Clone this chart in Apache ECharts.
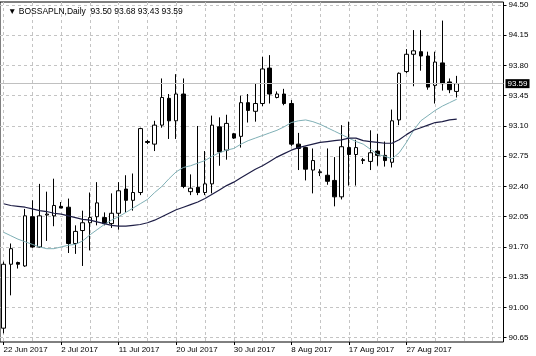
<!DOCTYPE html>
<html><head><meta charset="utf-8">
<script src="https://cdn.jsdelivr.net/npm/echarts@6/dist/echarts.min.js"></script>
<style>html,body{margin:0;padding:0;background:#fff}#c{width:536px;height:356px}</style>
</head><body><div id="c"></div>
<script>
const symbolName = 'BOSSAPLN,Daily';
const dates = ['22 Jun 2017','23 Jun 2017','25 Jun 2017','26 Jun 2017','27 Jun 2017','28 Jun 2017','29 Jun 2017','30 Jun 2017',
'2 Jul 2017','3 Jul 2017','4 Jul 2017','5 Jul 2017','6 Jul 2017','7 Jul 2017','9 Jul 2017','10 Jul 2017',
'11 Jul 2017','12 Jul 2017','13 Jul 2017','14 Jul 2017','16 Jul 2017','17 Jul 2017','18 Jul 2017','19 Jul 2017',
'20 Jul 2017','21 Jul 2017','23 Jul 2017','24 Jul 2017','25 Jul 2017','26 Jul 2017','27 Jul 2017','28 Jul 2017',
'30 Jul 2017','31 Jul 2017','1 Aug 2017','2 Aug 2017','3 Aug 2017','4 Aug 2017','6 Aug 2017','7 Aug 2017',
'8 Aug 2017','9 Aug 2017','10 Aug 2017','11 Aug 2017','13 Aug 2017','14 Aug 2017','15 Aug 2017','16 Aug 2017',
'17 Aug 2017','18 Aug 2017','20 Aug 2017','21 Aug 2017','22 Aug 2017','23 Aug 2017','24 Aug 2017','25 Aug 2017',
'27 Aug 2017','28 Aug 2017','29 Aug 2017','30 Aug 2017','31 Aug 2017','1 Sep 2017','3 Sep 2017','4 Sep 2017'];
const opens = [90.76,91.50,91.52,91.48,92.05,91.70,92.07,92.06,92.17,92.16,91.74,91.89,91.98,92.05,92.04,91.97,
92.09,92.37,92.24,92.33,92.92,92.89,93.11,93.42,93.16,93.47,92.34,92.39,92.33,92.43,93.09,92.82,
93.01,92.98,93.37,93.27,93.36,93.77,93.43,93.47,93.36,92.89,92.85,92.59,92.56,92.53,92.47,92.28,
92.85,92.77,92.70,92.69,92.81,92.76,92.68,93.17,93.73,93.93,93.96,93.91,93.57,93.83,93.61,93.50];
const highs = [91.53,91.74,91.53,92.14,92.24,92.43,92.34,92.49,92.22,92.26,91.95,92.12,92.33,92.45,92.10,92.32,
92.45,92.53,92.55,93.08,92.94,93.16,93.65,93.47,93.70,93.65,92.54,93.10,92.81,93.22,93.20,93.23,
93.02,93.45,93.47,93.59,93.90,93.92,93.50,93.53,93.40,93.02,92.86,92.84,92.60,92.84,92.74,93.11,
93.15,92.94,92.73,93.05,93.01,92.92,93.29,93.72,93.99,94.21,94.21,93.96,93.96,94.32,93.65,93.68];
const lows = [90.70,91.14,91.45,91.47,91.69,91.69,91.77,91.94,92.15,91.63,91.62,91.48,91.66,91.95,91.95,91.92,
91.90,92.10,92.12,92.30,92.89,92.81,93.08,92.95,92.95,92.38,92.30,92.30,92.30,92.32,92.64,92.71,
92.95,92.85,93.14,93.15,93.33,93.36,93.42,93.34,92.87,92.59,92.47,92.32,92.52,92.42,92.17,92.25,
92.41,92.41,92.66,92.59,92.64,92.63,92.62,93.11,93.71,93.56,93.74,93.52,93.36,93.51,93.48,93.43];
const closes = [91.50,91.68,91.50,92.06,91.70,92.06,92.08,92.18,92.15,91.74,91.88,91.98,92.04,92.21,91.97,92.09,
92.35,92.24,92.33,93.07,92.91,93.11,93.43,93.16,93.47,92.40,92.38,92.33,92.43,93.11,92.80,93.13,
92.96,93.37,93.28,93.36,93.76,93.47,93.47,93.36,92.89,92.84,92.60,92.70,92.57,92.46,92.28,92.86,
92.77,92.85,92.71,92.79,92.76,92.70,93.16,93.71,93.93,93.97,93.91,93.55,93.84,93.59,93.52,93.59];
const maFast = [91.87,91.83,91.79,91.76,91.73,91.70,91.68,91.68,91.70,91.72,91.73,91.77,91.84,91.90,91.96,92.01,
92.05,92.10,92.15,92.20,92.25,92.33,92.40,92.49,92.57,92.62,92.64,92.67,92.70,92.75,92.79,92.82,
92.84,92.89,92.93,92.96,92.99,93.02,93.05,93.09,93.14,93.16,93.17,93.15,93.12,93.08,93.04,93.00,
92.96,92.92,92.89,92.83,92.77,92.75,92.72,92.79,92.91,93.05,93.16,93.22,93.28,93.33,93.37,93.41];
const maSlow = [92.20,92.18,92.17,92.16,92.14,92.12,92.11,92.09,92.08,92.06,92.04,92.02,92.01,91.99,91.97,91.95,
91.94,91.94,91.95,91.96,91.98,92.01,92.05,92.09,92.13,92.16,92.19,92.22,92.26,92.31,92.36,92.41,
92.45,92.50,92.55,92.60,92.64,92.69,92.74,92.78,92.82,92.85,92.87,92.89,92.91,92.92,92.93,92.94,
92.96,92.96,92.93,92.92,92.91,92.90,92.90,92.94,93.00,93.05,93.08,93.11,93.14,93.15,93.17,93.18];
const yTicks = [90.65,91.00,91.35,91.70,92.05,92.40,92.75,93.10,93.45,93.80,94.15,94.50];
const shiftSlots = ['', '', '', '', '', ''];

const FONT = 'Liberation Sans, Arial, DejaVu Sans, sans-serif';
const last = dates.length - 1;
const cats = dates.concat(shiftSlots);
const candles = dates.map((d, i) => [opens[i], closes[i], lows[i], highs[i]]);
const titleText = '\u25BC ' + symbolName + '  ' + [opens[last], highs[last], lows[last], closes[last]].map(v => v.toFixed(2)).join(' ');

const chart = echarts.init(document.getElementById('c'), null, {renderer: 'canvas'});
chart.setOption({
  animation: false,
  backgroundColor: '#fff',
  title: {text: titleText, left: 3, top: 2, textStyle: {fontSize: 8.5, fontWeight: 'normal', color: '#000', fontFamily: FONT}},
  grid: {left: 0, top: 2, width: 503.5, height: 340, show: true, borderColor: '#000', borderWidth: 1, backgroundColor: '#fff'},
  xAxis: {
    type: 'category', data: cats, boundaryGap: true,
    axisLine: {show: false},
    axisTick: {show: true, alignWithLabel: true, length: 3, interval: (i) => i % 8 === 0 && i <= last, lineStyle: {color: '#000'}},
    axisLabel: {interval: (i) => i % 8 === 0 && i <= last, align: 'left', margin: 4, fontSize: 8, color: '#000', fontFamily: FONT},
    splitLine: {show: true, alignWithLabel: true, interval: (i) => i % 4 === 0, lineStyle: {type: [3, 3], color: '#c4c4c4', width: 1}}
  },
  yAxis: {
    type: 'value', position: 'right', min: 90.60, max: 94.535, scale: true,
    axisLine: {show: false},
    axisTick: {show: true, customValues: yTicks, length: 3, lineStyle: {color: '#000'}},
    axisLabel: {customValues: yTicks, formatter: (v) => v.toFixed(2), fontSize: 8, color: '#000', margin: 5, fontFamily: FONT},
    splitLine: {show: true, lineStyle: {type: [3, 3], color: '#c4c4c4', width: 1}}
  },
  series: [
    {
      type: 'candlestick', data: candles, barWidth: 4,
      itemStyle: {color: '#fff', color0: '#000', borderColor: '#000', borderColor0: '#000', borderWidth: 1},
      markLine: {
        symbol: 'none', silent: true, animation: false,
        data: [{yAxis: closes[last]}],
        lineStyle: {color: '#c0c0c0', type: 'solid', width: 1},
        label: {show: true, position: 'end', distance: 2, formatter: () => closes[last].toFixed(2),
          backgroundColor: '#000', color: '#fff', padding: [1, 2, 0, 2], fontSize: 8, fontFamily: FONT}
      }
    },
    {type: 'line', data: maFast, symbol: 'none', smooth: false, lineStyle: {color: '#7fb0b6', width: 1}, z: 3},
    {type: 'line', data: maSlow, symbol: 'none', smooth: false, lineStyle: {color: '#1e1e46', width: 1.2}, z: 3}
  ]
});
</script></body></html>
